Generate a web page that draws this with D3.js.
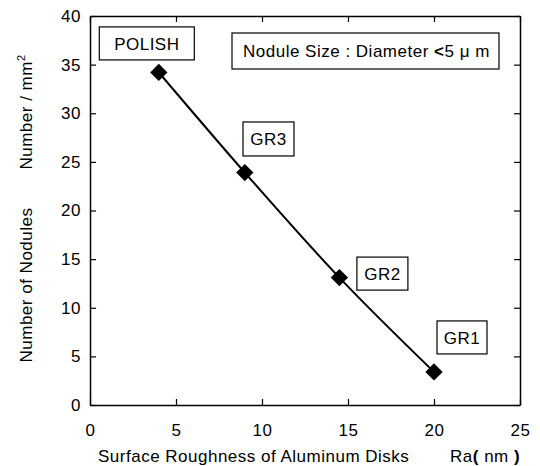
<!DOCTYPE html>
<html lang="en">
<head>
<meta charset="UTF-8">
<title>Nodules vs roughness</title>
<script src="https://d3js.org/d3.v7.min.js"></script>
<style>
  body { margin: 0; background: #fff; }
  svg text { font-family: "Liberation Sans", Arial, sans-serif; font-size: 17px; letter-spacing: 0.5px; fill: #000; }
</style>
</head>
<body>
<svg id="chart" width="540" height="466"></svg>
<script>
// data
var roughness = [4, 9, 14.5, 20];
var nodules = [34.2, 23.9, 13.1, 3.4];
var sampleNames = ["POLISH", "GR3", "GR2", "GR1"];
var xTicks = [0, 5, 10, 15, 20, 25];
var yTicks = [0, 5, 10, 15, 20, 25, 30, 35, 40];

// label boxes: offset of box centre from its point, and box size
var labelBoxes = [
  { dx: -12, dy: -29, w: 95, h: 33 },
  { dx: 23.7, dy: -33.6, w: 51, h: 34 },
  { dx: 43, dy: -4, w: 51, h: 33 },
  { dx: 28, dy: -34.5, w: 50, h: 33 }
];

var svg = d3.select("#chart");
var mLeft = 90, mRight = 520, mTop = 16, mBottom = 405;

var x = d3.scaleLinear().domain([0, 25]).range([mLeft, mRight]);
var y = d3.scaleLinear().domain([0, 40]).range([mBottom, mTop]);

// frame axes, ticks inward
svg.append("g")
  .attr("transform", "translate(0," + mBottom + ")")
  .call(d3.axisBottom(x).tickValues(xTicks).tickSize(-6).tickPadding(19).tickSizeOuter(0));
svg.append("g")
  .attr("transform", "translate(0," + mTop + ")")
  .call(d3.axisTop(x).tickValues(xTicks).tickSize(-6).tickFormat("").tickSizeOuter(0));
svg.append("g")
  .attr("transform", "translate(" + mLeft + ",0)")
  .call(d3.axisLeft(y).tickValues(yTicks).tickSize(-6).tickPadding(9).tickSizeOuter(0));
svg.append("g")
  .attr("transform", "translate(" + mRight + ",0)")
  .call(d3.axisRight(y).tickValues(yTicks).tickSize(-6).tickFormat("").tickSizeOuter(0));

svg.selectAll(".domain").attr("stroke", "#000").attr("stroke-width", 1.5);
svg.selectAll(".tick line").attr("stroke", "#000").attr("stroke-width", 1.2);
svg.selectAll(".tick text")
  .style("font-family", "'Liberation Sans', Arial, sans-serif")
  .style("font-size", "17px")
  .style("letter-spacing", "0.5px")
  .attr("fill", "#000");

// curve
var pts = roughness.map(function(r, i) { return [r, nodules[i]]; });
var line = d3.line()
  .x(function(d) { return x(d[0]); })
  .y(function(d) { return y(d[1]); })
  .curve(d3.curveMonotoneX);

svg.append("path")
  .datum(pts)
  .attr("d", line)
  .attr("fill", "none")
  .attr("stroke", "#000")
  .attr("stroke-width", 2);

// diamonds
svg.selectAll(".pt")
  .data(pts)
  .enter()
  .append("path")
  .attr("class", "pt")
  .attr("d", d3.symbol().type(d3.symbolSquare).size(150))
  .attr("transform", function(d) { return "translate(" + x(d[0]) + "," + y(d[1]) + ") rotate(45)"; })
  .attr("fill", "#000");

// sample labels
var lab = svg.selectAll(".lab")
  .data(pts)
  .enter()
  .append("g")
  .attr("transform", function(d, i) {
    return "translate(" + (x(d[0]) + labelBoxes[i].dx) + "," + (y(d[1]) + labelBoxes[i].dy) + ")";
  });
lab.append("rect")
  .attr("x", function(d, i) { return -labelBoxes[i].w / 2; })
  .attr("y", function(d, i) { return -labelBoxes[i].h / 2; })
  .attr("width", function(d, i) { return labelBoxes[i].w; })
  .attr("height", function(d, i) { return labelBoxes[i].h; })
  .attr("fill", "#fff")
  .attr("stroke", "#000")
  .attr("stroke-width", 1.2);
lab.append("text")
  .attr("text-anchor", "middle")
  .attr("dy", "0.36em")
  .text(function(d, i) { return sampleNames[i]; });

// nodule size note
svg.append("rect")
  .attr("x", 232).attr("y", 33).attr("width", 267).attr("height", 36)
  .attr("fill", "#fff").attr("stroke", "#000").attr("stroke-width", 1.2);
var note = svg.append("text").attr("x", 243).attr("y", 57);
note.append("tspan").text("Nodule Size : Diameter ");
note.append("tspan").attr("font-weight", "bold").text("<");
note.append("tspan").text("5 μ m");

// axis titles
svg.append("text")
  .attr("x", 98).attr("y", 462)
  .text("Surface Roughness of Aluminum Disks");
var ra = svg.append("text").attr("x", 450).attr("y", 462);
ra.append("tspan").text("Ra");
ra.append("tspan").attr("font-weight", "bold").text("(");
ra.append("tspan").text(" nm ");
ra.append("tspan").attr("font-weight", "bold").text(")");

svg.append("text")
  .attr("transform", "translate(32,285) rotate(-90)")
  .attr("text-anchor", "middle")
  .text("Number of Nodules");
var nm = svg.append("text")
  .attr("transform", "translate(32,112) rotate(-90)")
  .attr("text-anchor", "middle");
nm.append("tspan").text("Number / mm");
nm.append("tspan").attr("dy", -7).style("font-size", "11px").text("2");
</script>
</body>
</html>
